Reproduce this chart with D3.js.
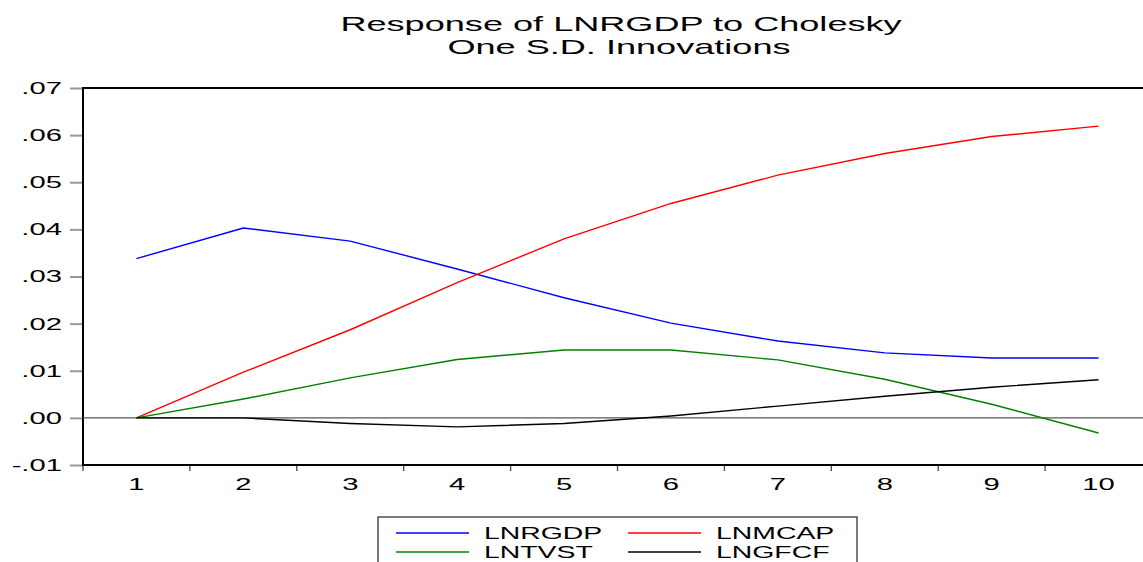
<!DOCTYPE html>
<html>
<head>
<meta charset="utf-8">
<script src="https://cdn.jsdelivr.net/npm/d3@7"></script>
<style>
  body { margin: 0; background: #fff; overflow: hidden; }
  text { font-family: "Liberation Sans", Arial, sans-serif; }
</style>
</head>
<body>
<svg id="chart" width="1143" height="562"></svg>
<script>
var periods = [1, 2, 3, 4, 5, 6, 7, 8, 9, 10];
var lnrgdp = [0.0338, 0.0403, 0.0375, 0.0316, 0.0255, 0.0201, 0.0163, 0.0138, 0.0127, 0.0127];
var lnmcap = [0.0, 0.0097, 0.0187, 0.0287, 0.0380, 0.0455, 0.0515, 0.0561, 0.0597, 0.0619];
var lntvst = [0.0, 0.0040, 0.0085, 0.0124, 0.0144, 0.0144, 0.0123, 0.0082, 0.0029, -0.0032];
var lngfcf = [0.0, 0.0, -0.0012, -0.0019, -0.0012, 0.0004, 0.0025, 0.0046, 0.0065, 0.0081];
var yTicks = [-0.01, 0.0, 0.01, 0.02, 0.03, 0.04, 0.05, 0.06, 0.07];

var series = [
  {name: "LNRGDP", values: lnrgdp, color: "#0000ff"},
  {name: "LNMCAP", values: lnmcap, color: "#ff0000"},
  {name: "LNTVST", values: lntvst, color: "#008000"},
  {name: "LNGFCF", values: lngfcf, color: "#000000"}
];

var margin = {top: 88, left: 83},
    w = 1069,
    h = 377;

// the source picture is stretched sideways, so text is widened too
var sx = 1.72;

var svg = d3.select("#chart");

function wideText(parent, x, y, str, size, anchor) {
  return parent.append("text")
    .attr("transform", `translate(${x}, ${y}) scale(${sx}, 1)`)
    .attr("text-anchor", anchor || "start")
    .style("font-size", size + "px")
    .text(str);
}

// title
wideText(svg, 621, 31, "Response of LNRGDP to Cholesky", 21, "middle");
wideText(svg, 619, 54, "One S.D. Innovations", 21, "middle");

var g = svg.append("g").attr("transform", `translate(${margin.left}, ${margin.top})`);

var x = d3.scaleBand().domain(periods).range([0, w]);
var y = d3.scaleLinear().domain([-0.01, 0.07]).range([h, 0]);

var fmt = function(d) {
  return d3.format(".2f")(d).replace("\u2212", "-").replace("0.", ".");
};

// y axis
var yAxis = g.append("g").call(d3.axisLeft(y).tickValues(yTicks).tickSize(13).tickPadding(8).tickFormat(fmt));
yAxis.select(".domain").remove();
yAxis.selectAll(".tick line").attr("stroke", "#999").attr("stroke-width", 2);
yAxis.selectAll(".tick text")
  .style("font-size", "17px").attr("fill", "#000")
  .attr("x", -21 / sx).attr("transform", `scale(${sx}, 1)`);

// x axis
var xAxis = g.append("g").attr("transform", `translate(0, ${h})`)
  .call(d3.axisBottom(x).tickSize(0).tickPadding(13));
xAxis.select(".domain").remove();
xAxis.selectAll(".tick text")
  .style("font-size", "17px").attr("fill", "#000")
  .attr("transform", `scale(${sx}, 1)`);
g.append("g").selectAll("line").data(d3.range(periods.length + 1)).join("line")
  .attr("x1", d => d * x.step()).attr("x2", d => d * x.step())
  .attr("y1", h).attr("y2", h + 6)
  .attr("stroke", "#444").attr("stroke-width", 1.3);

// frame
g.append("rect").attr("x", 0).attr("y", 0).attr("width", w).attr("height", h)
  .attr("fill", "none").attr("stroke", "#000").attr("stroke-width", 2);

// zero line
g.append("line").attr("x1", 0).attr("x2", w).attr("y1", y(0)).attr("y2", y(0))
  .attr("stroke", "#555").attr("stroke-width", 1.2);

var line = d3.line()
  .x((d, i) => x(periods[i]) + x.bandwidth() / 2)
  .y(d => y(d));

g.selectAll(".series").data(series).join("path")
  .attr("class", "series")
  .attr("d", d => line(d.values))
  .attr("fill", "none")
  .attr("stroke", d => d.color)
  .attr("stroke-width", 1.4);

// legend
var lg = svg.append("g").attr("transform", "translate(378, 517)");
lg.append("rect").attr("x", 0).attr("y", 0).attr("width", 479).attr("height", 60)
  .attr("fill", "#fff").attr("stroke", "#333").attr("stroke-width", 1.3);
series.forEach(function(s, i) {
  var col = i % 2, row = Math.floor(i / 2);
  var lx = 18 + col * 232, ly = 16 + row * 19;
  lg.append("line").attr("x1", lx).attr("x2", lx + 73).attr("y1", ly).attr("y2", ly)
    .attr("stroke", s.color).attr("stroke-width", 1.4);
  wideText(lg, lx + 88, ly + 6, s.name, 16.5);
});
</script>
</body>
</html>
